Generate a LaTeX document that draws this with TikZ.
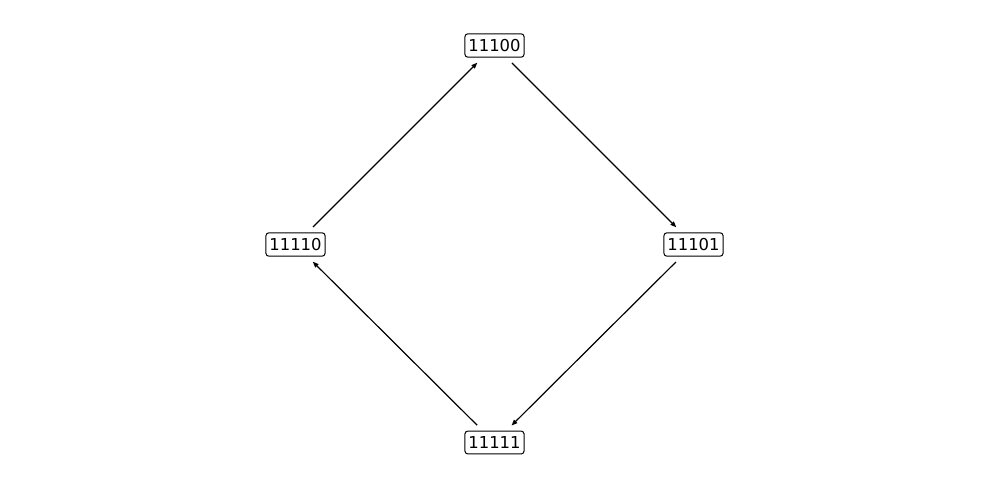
\documentclass[tikz,border=0pt]{standalone}
\usepackage{fontspec}
\setmainfont{DejaVu Sans}
\usetikzlibrary{arrows.meta}
\tikzset{
  state/.style={draw, rounded corners=3pt, line width=1pt, inner xsep=3.5pt, inner ysep=5.5pt,
    font=\fontsize{16.4}{19}\selectfont},
  edge/.style={line width=1.2pt, -{Triangle[length=6pt,width=4.5pt]}, shorten >=7pt, shorten <=7.5pt}
}
\begin{document}
\begin{tikzpicture}[x=1pt,y=-1pt]
\useasboundingbox (0,0) rectangle (989,490);
\node[state] (a) at (494.5,45.5) {11100};
\node[state] (b) at (693.5,244.5) {11101};
\node[state] (c) at (494.5,442.5) {11111};
\node[state] (d) at (295.5,244.5) {11110};
\draw[edge] (a) -- (b);
\draw[edge] (b) -- (c);
\draw[edge] (c) -- (d);
\draw[edge] (d) -- (a);
\end{tikzpicture}
\end{document}
